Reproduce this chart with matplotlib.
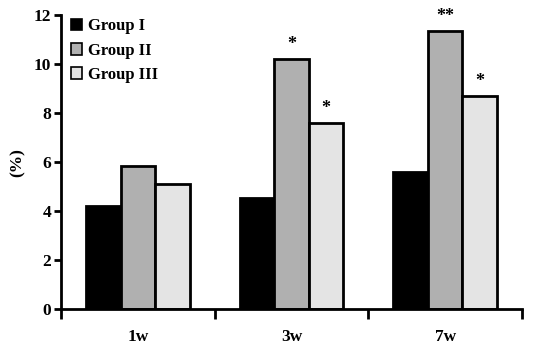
import matplotlib
matplotlib.use("Agg")
import matplotlib.pyplot as plt
import numpy as np
from matplotlib.patches import Patch

categories = ["1w", "3w", "7w"]
groups = ["Group I", "Group II", "Group III"]
group1 = [4.2, 4.55, 5.6]
group2 = [5.85, 10.2, 11.35]
group3 = [5.1, 7.6, 8.7]
marks2 = ["", "*", "**"]
marks3 = ["", "*", "*"]
colors = ["#000000", "#b0b0b0", "#e4e4e4"]

plt.rcParams['font.family'] = ['Liberation Serif', 'DejaVu Serif']
plt.rcParams['font.weight'] = 'bold'

fig = plt.figure(figsize=(5.46, 3.52), dpi=100)
ax = fig.add_axes([0.112, 0.122, 0.844, 0.835])

x = np.arange(len(categories))
w = 0.225
series = [group1, group2, group3]
for i, (vals, c) in enumerate(zip(series, colors)):
    ax.bar(x + (i - 1) * w, vals, w, color=c, edgecolor="black", linewidth=2, zorder=2)

for xi, v, m in zip(x, group2, marks2):
    if m:
        ax.text(xi, v + 0.25, m, ha="center", va="bottom", fontsize=13, fontweight="bold")
for xi, v, m in zip(x, group3, marks3):
    if m:
        ax.text(xi + w, v + 0.25, m, ha="center", va="bottom", fontsize=13, fontweight="bold")

ax.set_xlim(-0.5, 2.5)
ax.set_ylim(0, 12)
ax.set_yticks([0, 2, 4, 6, 8, 10, 12])
ax.tick_params(axis="y", labelsize=12.5, width=2, length=5, pad=2)
ax.set_xticks([-0.5, 0.5, 1.5, 2.5])
ax.set_xticklabels([])
ax.tick_params(axis="x", which="major", width=2, length=7, direction="out")
ax.set_xticks(x, minor=True)
ax.set_xticklabels(categories, minor=True, fontsize=12.5, fontweight="bold")
ax.tick_params(axis="x", which="minor", length=0, pad=14)
for lab in ax.get_yticklabels():
    lab.set_fontweight("bold")

ax.spines["top"].set_visible(False)
ax.spines["right"].set_visible(False)
ax.spines["left"].set_linewidth(2)
ax.spines["bottom"].set_linewidth(2)
ax.set_ylabel("(%)", fontsize=12.5, fontweight="bold", labelpad=6)

handles = [Patch(facecolor=c, edgecolor="black", linewidth=1.2) for c in colors]
ax.legend(handles, groups, loc="upper left", bbox_to_anchor=(-0.012, 1.04), frameon=False,
          handlelength=0.7, handleheight=0.7, handletextpad=0.35,
          labelspacing=0.5, prop={"weight": "bold", "size": 12})

fig.savefig("out.png", dpi=100)
